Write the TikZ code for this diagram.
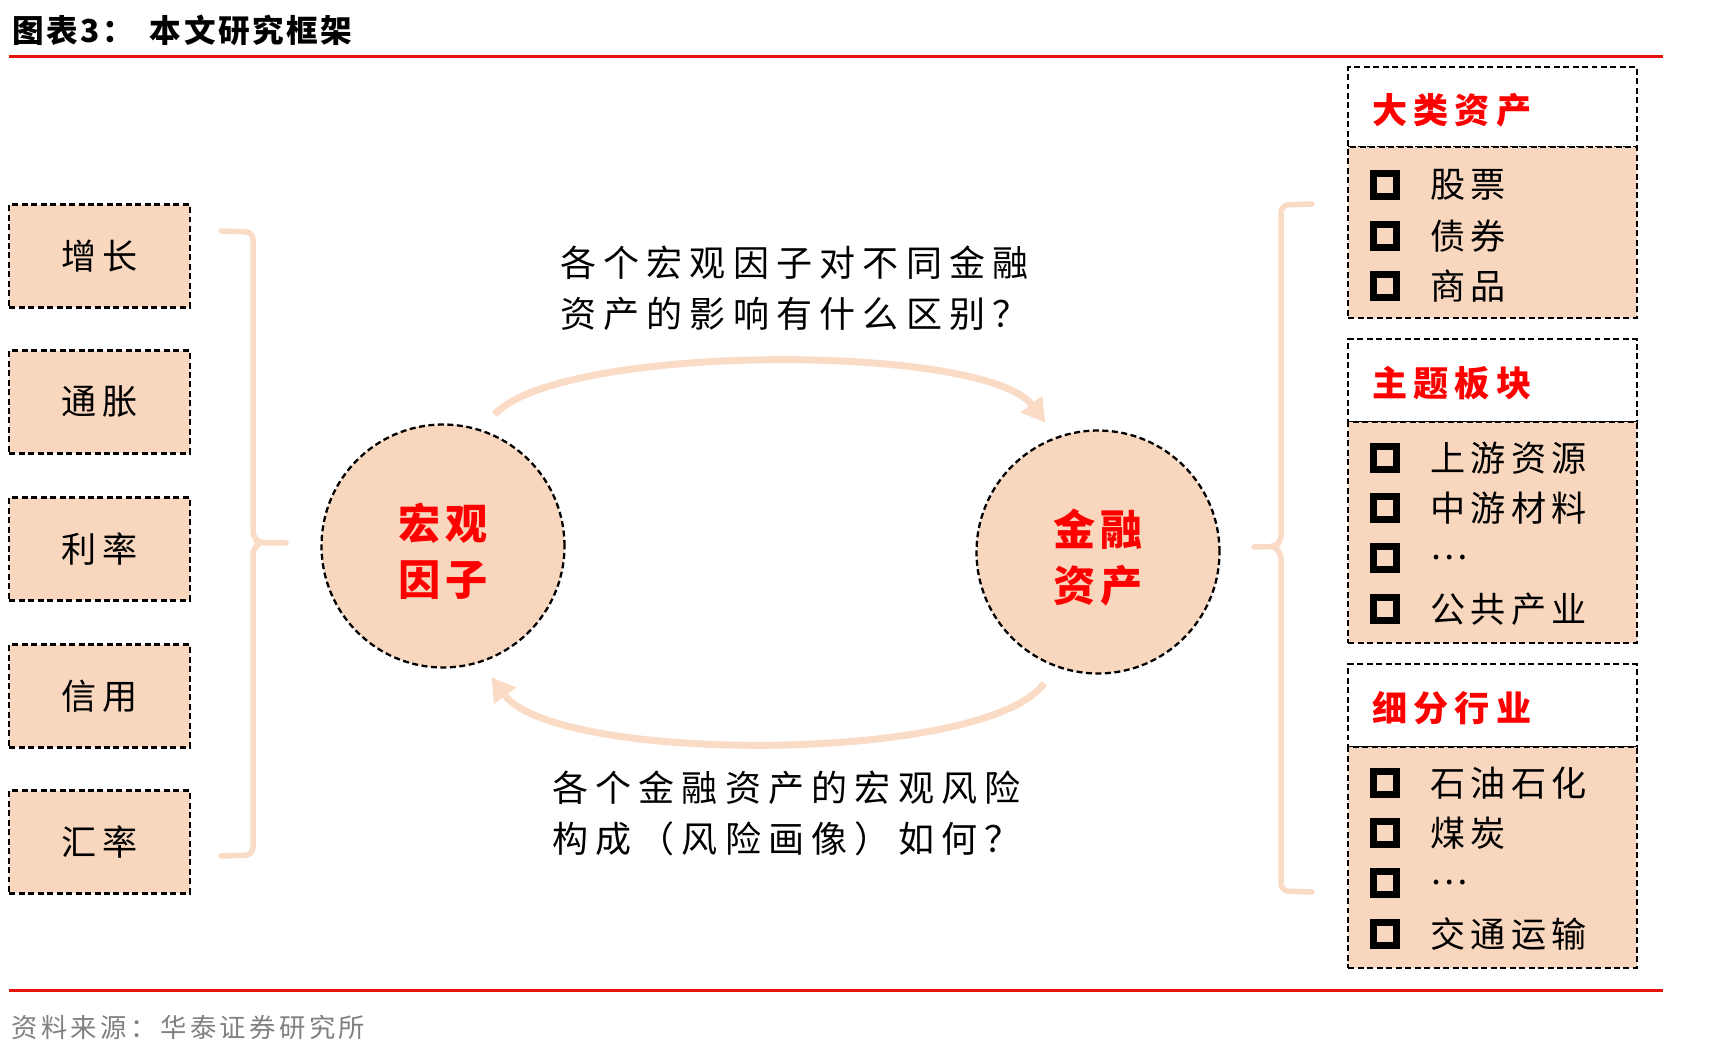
\documentclass[tikz,border=0pt]{standalone}
\usepackage{fontspec}
\setmainfont{Noto Sans CJK SC}
\usepackage{tikz}
\usetikzlibrary{arrows.meta,positioning}
\definecolor{htpeach} {RGB}{248,215,190}
\definecolor{htarrow} {RGB}{250,219,197}
\definecolor{htred}   {RGB}{255,  0,  0}
\definecolor{htrule}  {RGB}{228, 20, 10}
\definecolor{htgray}  {RGB}{128,128,128}
\newcommand\bodyfont{\fontsize{20}{24}\selectfont\addfontfeature{LetterSpace=15}}
\tikzset{
  dashbox/.style={draw=black,line width=0.046cm,
                  dash pattern=on 0.12cm off 0.07cm},
  factor/.style={dashbox,fill=htpeach,inner sep=0pt,
                 minimum width=3.62cm,minimum height=2.06cm,
                 font=\bodyfont,text=black},
  hub/.style={dashbox,circle,fill=htpeach,minimum size=4.86cm,inner sep=0pt},
  hubtext/.style={align=center,text=htred,inner sep=0pt,yshift=-0.11cm,
                  font=\fontsize{24}{32}\selectfont\bfseries\addfontfeature{LetterSpace=10}},
  grphead/.style={dashbox,fill=white,text width=4.82cm,inner xsep=0.48cm,
                  align=left,text=htred,text height=0.74cm,text depth=0.08cm,
                  font=\fontsize{20}{24}\selectfont\bfseries\addfontfeature{LetterSpace=18}},
  grpbody/.style={dashbox,fill=htpeach,minimum width=5.78cm},
  chk/.style={draw=black,line width=0.14cm,minimum size=0.46cm,inner sep=0pt},
  item/.style={anchor=west,inner sep=0pt,font=\bodyfont},
  question/.style={anchor=west,inner sep=0pt,align=left,
                   font=\fontsize{20.5}{29}\selectfont\addfontfeature{LetterSpace=20}},
  flowarr/.style={draw=htarrow,line width=0.14cm,
                  -{Triangle[length=0.46cm,width=0.52cm]},
                  shorten <=0.4cm,shorten >=0.36cm},
  brk/.style={draw=htarrow,line width=0.11cm,rounded corners=0.15cm,line cap=round},
  rulered/.style={draw=htrule,line width=0.06cm},
}

\begin{document}
\begin{tikzpicture}[x=0.02cm,y=-0.02cm]
\useasboundingbox (0,0) rectangle (1710,1053);

% title, rules, source
\node[anchor=west,inner sep=0pt,
      font=\fontsize{18}{21}\selectfont\bfseries\addfontfeature{LetterSpace=8}]
  (title) at (12,30) {图表3：\hspace{0.5em}本文研究框架};
\draw[rulered] (9,57) -- (1663,57);
\draw[rulered] (9,990) -- (1663,990);
\node[anchor=west,inner sep=0pt,text=htgray,
      font=\fontsize{15}{18}\selectfont\addfontfeature{LetterSpace=13}]
  (source) at (11,1027) {资料来源：华泰证券研究所};

% macro factors
\node[factor] (growth)   at (99.5,256) {增长};
\node[factor] (inflat)   at (99.5,402) {通胀};
\node[factor] (rate)     at (99.5,549) {利率};
\node[factor] (credit)   at (99.5,696) {信用};
\node[factor] (fx)       at (99.5,842) {汇率};
\draw[brk] (221,231) -- (253,232) -- (253,539) -- (261,543) -- (286,543);
\draw[brk] (261,543) -- (253,547) -- (253,855) -- (221,856);

% two hubs
\node[hub,label={[hubtext]center:宏观\\因子}] (macro) at (443,546) {};
\node[hub,label={[hubtext]center:金融\\资产}] (asset) at (1098,552) {};
\draw[flowarr] (macro.72) .. controls (560,343) and (985,343) .. (asset.110);
\draw[flowarr] (asset.-110) .. controls (985,764) and (555,764) .. (macro.-72);
\node[question] (q1) at (560,288) {各个宏观因子对不同金融\\资产的影响有什么区别？};
\node[question] (q2) at (552,813) {各个金融资产的宏观风险\\构成（风险画像）如何？};

% asset groups
\draw[brk] (1312,204) -- (1281,205) -- (1281,543) -- (1273,547) -- (1254,547);
\draw[brk] (1273,547) -- (1281,551) -- (1281,891) -- (1312,892);

\node[grphead,minimum height=1.6cm]  (head1) at (1492.5,107)   {大类资产};
\node[grpbody,minimum height=3.42cm] (body1) at (1492.5,232.5) {};
\node[chk] (c11) at (1385,185) {}; \node[item] (t11) at (1430,185) {股票};
\node[chk] (c12) at (1385,236) {}; \node[item] (t12) at (1430,236) {债券};
\node[chk] (c13) at (1385,286) {}; \node[item] (t13) at (1430,286) {商品};

\node[grphead,minimum height=1.66cm] (head2) at (1492.5,380.5) {主题板块};
\node[grpbody,minimum height=4.42cm] (body2) at (1492.5,532.5) {};
\node[chk] (c21) at (1385,458) {}; \node[item] (t21) at (1430,458) {上游资源};
\node[chk] (c22) at (1385,508) {}; \node[item] (t22) at (1430,508) {中游材料};
\node[chk] (c23) at (1385,558) {}; \node[item] (t23) at (1430,558) {…};
\node[chk] (c24) at (1385,609) {}; \node[item] (t24) at (1430,609) {公共产业};

\node[grphead,minimum height=1.66cm] (head3) at (1492.5,705.5) {细分行业};
\node[grpbody,minimum height=4.42cm] (body3) at (1492.5,857.5) {};
\node[chk] (c31) at (1385,783) {}; \node[item] (t31) at (1430,783) {石油石化};
\node[chk] (c32) at (1385,833) {}; \node[item] (t32) at (1430,833) {煤炭};
\node[chk] (c33) at (1385,883) {}; \node[item] (t33) at (1430,883) {…};
\node[chk] (c34) at (1385,934) {}; \node[item] (t34) at (1430,934) {交通运输};
\end{tikzpicture}
\end{document}
